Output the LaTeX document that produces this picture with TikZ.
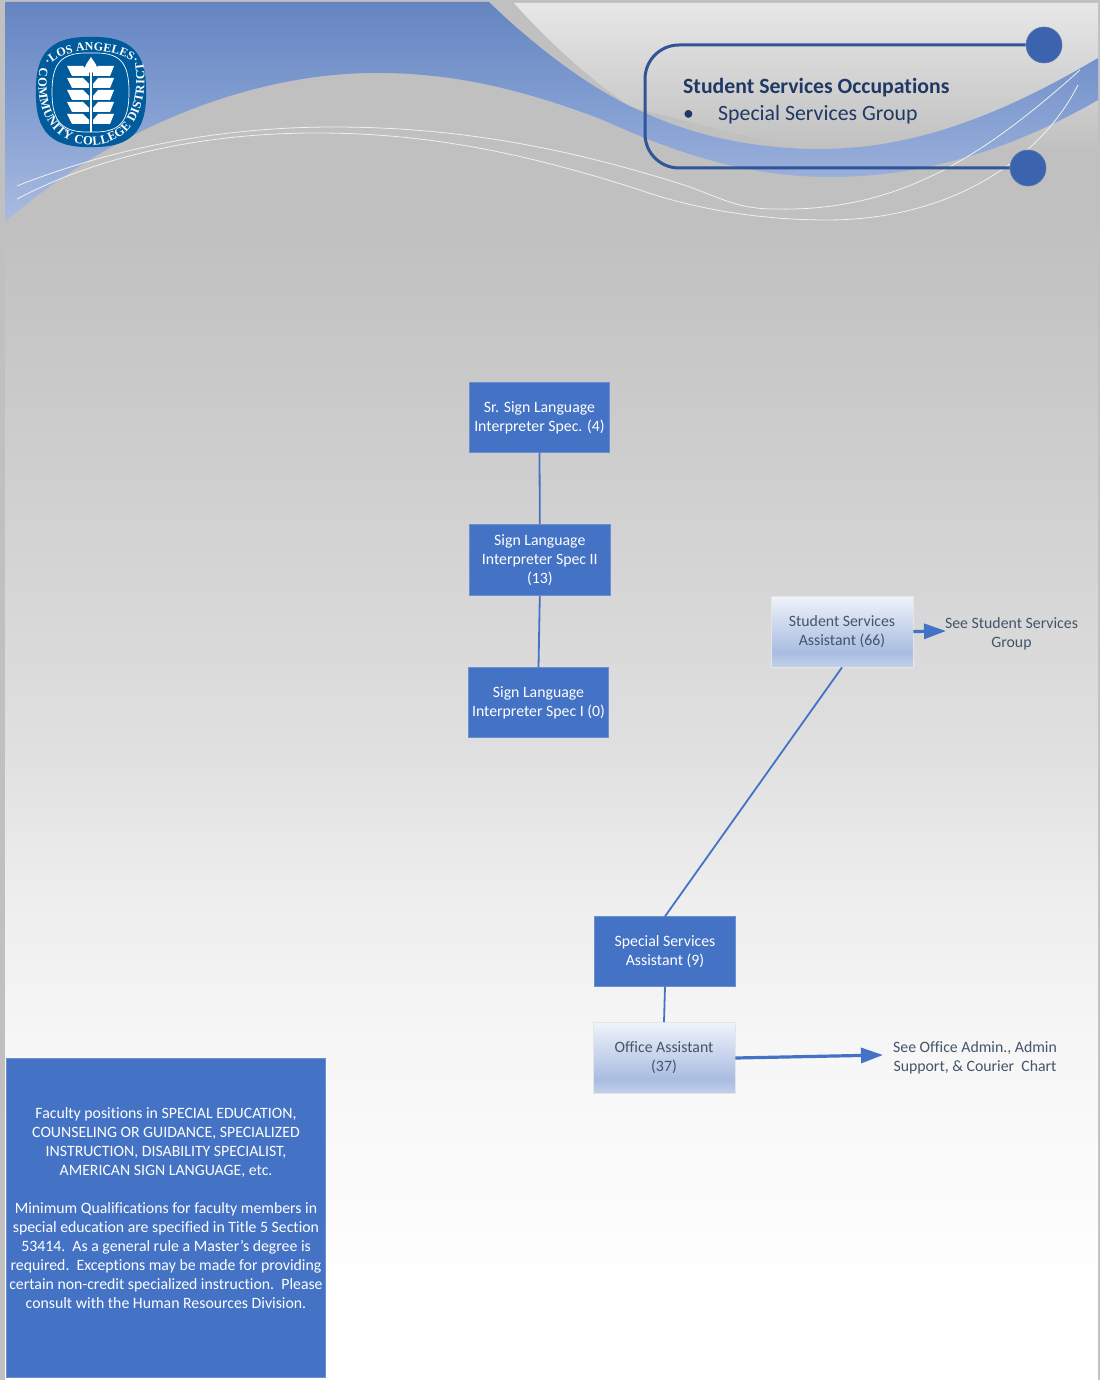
\documentclass[tikz,border=0pt]{standalone}
\usepackage{fontspec}
\setmainfont{Carlito}[Ligatures=NoCommon]
\newfontfamily\logofont{Liberation Serif}[Ligatures=NoCommon]
\usetikzlibrary{arrows.meta,decorations.text}
\definecolor{boxblue}{HTML}{4472C4}
\definecolor{boxedge}{HTML}{6C8FD0}
\definecolor{softtext}{HTML}{44546A}
\definecolor{navy}{HTML}{203864}
\definecolor{calloutline}{HTML}{2F5597}
\definecolor{dotblue}{HTML}{3C64AE}
\definecolor{logoblue}{HTML}{005B9C}
\definecolor{greyA}{HTML}{C0C0C0}
\definecolor{greyB}{HTML}{C9C9C9}
\definecolor{greyC}{HTML}{E0E0E0}
\definecolor{greyD}{HTML}{EEEEEE}
\definecolor{greyE}{HTML}{F6F6F6}
\definecolor{panelTop}{HTML}{E7E7E7}
\pgfdeclareverticalshading{pagegrad}{100bp}{color(0bp)=(white); color(27.9bp)=(white); color(37.3bp)=(greyE); color(42.4bp)=(greyD); color(47.8bp)=(greyC); color(61.3bp)=(greyB); color(67.1bp)=(greyA); color(100bp)=(greyA)}
\pgfdeclareverticalshading{panelgrad}{100bp}{color(0bp)=(greyA); color(25bp)=(greyA); color(75bp)=(panelTop); color(100bp)=(panelTop)}
\definecolor{bluetop}{HTML}{6585C1}
\definecolor{bluemid}{HTML}{819DD1}
\definecolor{bluelow}{HTML}{AABBE0}
\pgfdeclareverticalshading{bandgrad}{100bp}{color(0bp)=(bluelow); color(25bp)=(bluelow); color(52bp)=(bluemid); color(75bp)=(bluetop); color(100bp)=(bluetop)}
\definecolor{softa}{HTML}{EFF3FB}
\definecolor{softb}{HTML}{A9BCE1}
\definecolor{softc}{HTML}{C3D0EA}
\pgfdeclareverticalshading{softgrad}{100bp}{color(0bp)=(softc); color(25bp)=(softc); color(35bp)=(softb); color(75bp)=(softa); color(100bp)=(softa)}
\tikzset{
  labelfont/.style={font=\fontsize{15.8}{19}\selectfont},
  darkbox/.style={draw=boxedge,line width=.8pt,fill=boxblue,text=white,minimum width=140.5pt,minimum height=69.5pt,inner sep=0pt,align=center,labelfont},
  softbox/.style={draw=black!10,line width=.8pt,shading=softgrad,text=softtext,minimum width=142pt,minimum height=71pt,inner sep=0pt,align=center,labelfont},
  plaintext/.style={text=softtext,inner sep=0pt,align=center,labelfont},
  link/.style={draw=boxblue,line width=1.8pt},
  bigarrow/.style={draw=boxblue,line width=3.2pt,-{Triangle[length=22pt,width=15pt]}},
  swoosh/.style={draw=white!94!black,line width=.8pt},
  leaf/.style={fill=white,draw=none},
  ringtext/.style={decorate}
}
\begin{document}
\begin{tikzpicture}[x=1pt,y=-1pt]
\useasboundingbox (0,0) rectangle (1100,1380);
% page
\fill[greyA] (0,0) rectangle (1100,1380);
\shade[shading=pagegrad] (5,2) rectangle (1098,1379);
% light panel
\shade[shading=panelgrad] (514,3) .. controls (545,38) and (590,80) .. (631,107) -- (800,150) -- (1098,150) -- (1098,3) -- cycle;
% blue band
\shade[shading=bandgrad] (5,2) -- (489,2) .. controls (530,42) and (590,90) .. (645,113) .. controls (700,138) and (760,149) .. (820,149) .. controls (920,149) and (1010,110) .. (1098,58) -- (1098,100) .. controls (1020,145) and (930,177) .. (831,177) .. controls (750,177) and (680,155) .. (603,120) .. controls (520,88) and (450,73) .. (379,73) .. controls (250,72) and (110,130) .. (5,222) -- cycle;
% thin white curves
\draw[swoosh] (17,186) .. controls (120,145) and (230,127) .. (333,127) .. controls (450,127) and (560,145) .. (690,187) .. controls (725,200) and (740,209) .. (775,209) .. controls (900,212) and (985,155) .. (1080,70);
\draw[swoosh] (17,199) .. controls (110,150) and (220,133) .. (316,133) .. controls (420,133) and (520,150) .. (655,195) .. controls (710,212) and (770,220) .. (827,220) .. controls (950,220) and (1040,160) .. (1078,85);
% logo
\fill[logoblue] (91,37) .. controls (130,36) and (147,52) .. (146,92) .. controls (147,132) and (130,148) .. (91,147) .. controls (52,148) and (35,132) .. (36,92) .. controls (35,52) and (52,36) .. (91,37) -- cycle;
\draw[white,line width=.7pt] (91,53) .. controls (120,52) and (129,62) .. (129,92) .. controls (129,122) and (120,133) .. (91,132) .. controls (62,133) and (52,122) .. (52,92) .. controls (52,62) and (62,52) .. (91,53) -- cycle;
\path[ringtext,decoration={text along path,text color=white,text align=center,text={|\logofont\bfseries\fontsize{12}{14}\selectfont|·LOS ANGELES·}}] (49,66) .. controls (64,46) and (116,46) .. (135,64);
\path[ringtext,decoration={text along path,text color=white,text align=fit to path,text={|\logofont\bfseries\fontsize{12.5}{14}\selectfont|COMMUNITY COLLEGE DISTRICT}}] (40,68) .. controls (34,100) and (45,144) .. (91,145) .. controls (137,144) and (149,100) .. (143,62);
\draw[white,line width=1.3pt] (91,62) -- (91,132);
\fill[white] (91,57) .. controls (88,62) and (85,65) .. (85,68) .. controls (85,71) and (88,73) .. (91,73) .. controls (94,73) and (97,71) .. (97,68) .. controls (97,65) and (94,62) .. (91,57) -- cycle;
\foreach \r in {66,78,90,102,114}{
  \fill[leaf] (67,\r) -- (83,\r) -- (89,\r+6) -- (89,\r+10) -- (72,\r+10) -- cycle;
  \fill[leaf] (114,\r) -- (98,\r) -- (93,\r+6) -- (93,\r+10) -- (110,\r+10) -- cycle;
}
% callout
\node[circle,fill=dotblue,draw=calloutline!80,line width=.6pt,minimum size=36pt,inner sep=0pt] (dota) at (1044,45) {};
\node[circle,fill=dotblue,draw=calloutline!80,line width=.6pt,minimum size=36pt,inner sep=0pt] (dotb) at (1028,168) {};
\draw[calloutline,line width=3pt,rounded corners=34pt] (dota.west) -- (645,45) -- (645,168) -- (dotb.west);
\node[anchor=west,inner sep=0pt,text=navy,font=\fontsize{21.75}{24}\selectfont\bfseries] (title) at (683,88) {Student Services Occupations};
\node[anchor=west,inner sep=0pt,text=navy,font=\fontsize{21.8}{24}\selectfont] (sub) at (683,115) {\makebox[35pt][l]{•}Special Services Group};
% boxes
\node[darkbox] (sr) at (539.5,417.5) {Sr. Sign Language\\Interpreter Spec. (4)};
\node[darkbox,minimum height=71pt] (two) at (539.8,560) {Sign Language\\Interpreter Spec II\\(13)};
\node[darkbox] (one) at (538.5,702.5) {Sign Language\\Interpreter Spec I (0)};
\node[softbox] (ssa) at (842,631.5) {Student Services\\Assistant (66)};
\node[darkbox] (sps) at (665,951.5) {Special Services\\Assistant (9)};
\node[softbox] (off) at (664,1058) {Office Assistant\\(37)};
\node[plaintext] (seestu) at (1011.5,634) {See Student Services\\Group};
\node[plaintext] (seeoff) at (975,1058) {See Office Admin., Admin\\Support, \& Courier\ \ Chart};
\node[draw=boxedge,line width=.8pt,fill=boxblue,text=white,minimum width=319.5pt,minimum height=319.5pt,inner sep=0pt,align=center,labelfont] (note) at (166,1218) {Faculty positions in SPECIAL EDUCATION,\\COUNSELING OR GUIDANCE, SPECIALIZED\\INSTRUCTION, DISABILITY SPECIALIST,\\AMERICAN SIGN LANGUAGE, etc.\\[19pt]Minimum Qualifications for faculty members in\\special education are specified in Title 5 Section\\53414.\ \ As a general rule a Master's degree is\\required.\ \ Exceptions may be made for providing\\certain non-credit specialized instruction.\ \ Please\\consult with the Human Resources Division.\\[2pt]\mbox{}};
\coordinate (stutip) at (946,631);
\coordinate (offtip) at (883,1055);
% connectors
\draw[link] (sr.south) -- (two.north);
\draw[link] (two.south) -- (one.north);
\draw[link] (ssa.south) -- (sps.north);
\draw[link] (sps.south) -- (off.north);
\draw[bigarrow] (ssa.east) -- (stutip);
\draw[bigarrow] (off.east) -- (offtip);
\end{tikzpicture}
\end{document}
